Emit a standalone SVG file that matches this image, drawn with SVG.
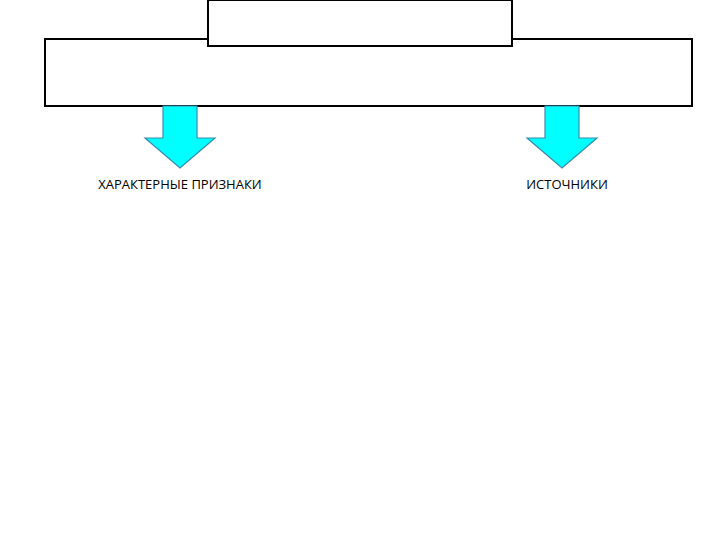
<svg xmlns="http://www.w3.org/2000/svg" width="720" height="540" viewBox="0 0 720 540">
<style>
.box{fill:#fff;stroke:#000;stroke-width:2}
.arr{fill:#00ffff;stroke:#3a8ab0;stroke-width:1.2}
text{font-family:"Open Sans","Noto Sans",sans-serif;font-size:13px;fill:#000}
</style>
<rect width="720" height="540" fill="#fff"/>
<g id="main"><rect class="box" x="45" y="39" width="647" height="67"/></g>
<g id="top"><rect class="box" x="208" y="0" width="304" height="46"/></g>
<g id="connectors">
<path class="arr" d="M163,106 H197 V138 H215 L180,168 L145,138 H163 Z"/>
<path class="arr" d="M545,106 H579 V138 H597 L562,168 L527,138 H545 Z"/>
</g>
<g id="signs"><text x="180" y="189" text-anchor="middle">ХАРАКТЕРНЫЕ ПРИЗНАКИ</text></g>
<g id="sources"><text x="567" y="189" text-anchor="middle">ИСТОЧНИКИ</text></g>
</svg>
